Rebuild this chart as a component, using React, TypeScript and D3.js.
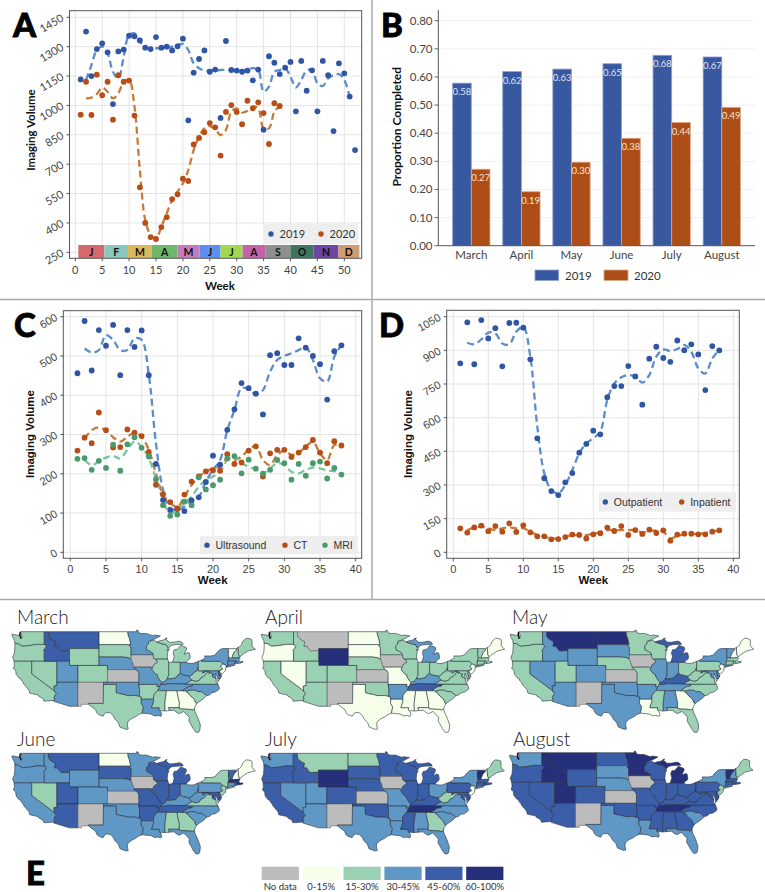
import React from "react";
import * as d3 from "d3";

// Panel A: weekly imaging volume
const volume2019 = [1133,1377,1150,1288,1317,1271,1007,1276,1285,1356,1353,1332,1295,1288,1349,1295,1300,1281,1302,1341,924,1167,1237,1281,1172,1183,936,1329,1181,1178,1172,1178,1128,1183,876,1251,1218,1160,1193,1222,970,1227,1075,1179,970,1227,1154,869,1215,1164,1045,772];
const volume2020 = [953,1121,951,1157,1052,1121,927,1154,1121,1127,948,582,400,328,318,379,430,522,546,626,614,801,834,863,910,888,744,967,1002,967,904,1024,985,1016,961,803,1011,997];
const trend2019 = [1130,1206,1283,1300,1266,1172,1138,1249,1360,1368,1326,1297,1292,1292,1292,1295,1300,1309,1314,1283,1215,1190,1178,1178,1178,1181,1181,1181,1178,1178,1184,1190,1181,1070,1096,1172,1181,1190,1147,1092,1130,1178,1181,1113,1099,1138,1155,1160,1130,1045];
const trend2020 = [1036,1040,1058,1091,1070,1036,1062,1121,1130,994,670,415,338,321,381,449,517,560,602,670,772,840,883,895,878,849,875,968,985,963,972,994,985,883,883,968,997];
const monthStrip = ["J","F","M","A","M","J","J","A","S","O","N","D"];
const monthEdges = [0.56,5.4,9.8,14.2,19,23.1,27,31.1,35.3,40,44.3,48.9,52.8];
const monthColors = ["#d4686b","#8ac8bd","#d9b95c","#6fb56b","#c47cbd","#5b8ff0","#a0d84f","#c464a8","#8f8f8f","#3f7560","#6d45a5","#cf9b72"];

// Panel B: proportion completed
const barMonths = ["March","April","May","June","July","August"];
const completed2019 = [0.578,0.619,0.628,0.647,0.677,0.671];
const completed2020 = [0.272,0.192,0.297,0.382,0.438,0.492];

// Panel C: by modality
const ultrasound = [456,589,463,566,526,579,451,566,523,565,451,225,133,108,110,105,132,140,179,246,223,312,364,431,418,404,351,502,507,477,477,545,521,500,479,389,512,527];
const ct = [259,292,278,356,311,267,268,313,305,296,256,172,148,128,112,147,180,193,206,209,208,250,225,229,259,270,193,252,261,261,243,254,268,286,254,227,283,272];
const mri = [238,240,210,233,215,274,208,275,293,266,244,186,120,93,96,129,120,191,160,171,185,239,245,201,236,213,200,210,235,227,185,225,195,227,231,188,215,198];
const ultrasoundTrend = [519,509,515,553,541,515,515,545,541,452,278,159,112,108,116,133,142,180,210,235,311,362,418,415,402,413,460,490,500,507,515,522,490,443,435,498,528];
const ctTrend = [290,311,318,310,293,282,294,305,294,261,201,146,125,116,142,171,193,205,214,218,239,235,244,261,271,235,222,248,259,248,254,269,282,252,235,273,272];
const mriTrend = [235,222,231,241,245,239,261,282,269,239,188,133,99,108,125,142,167,184,193,205,235,244,227,218,211,201,214,227,222,205,201,210,216,214,208,207,201];

// Panel D: by patient setting
const outpatient = [842,1025,838,1035,953,999,829,1022,1023,1001,860,508,330,273,255,312,353,444,483,542,526,691,741,741,830,784,658,863,916,866,849,944,901,927,882,723,919,900];
const inpatient = [107,88,111,119,94,117,92,129,91,120,89,71,71,58,59,68,79,77,62,80,85,110,95,117,77,99,82,101,86,98,52,79,83,83,80,80,92,98];
const outpatientTrend = [934,927,949,979,976,931,927,983,1005,872,560,352,278,263,300,367,441,486,508,538,679,753,780,790,783,756,790,872,904,897,906,924,894,820,797,864,901];
const inpatientTrend = [99,110,114,107,99,107,111,107,107,92,77,70,62,62,70,76,76,77,82,89,99,99,99,99,99,89,95,97,92,62,73,80,82,82,85,92,97];

// Panel E: percent bins per state, same order as stateCodes
const binLabels = ["No data","0-15%","15-30%","30-45%","45-60%","60-100%"];
const binColors = ["#bcbcbc","#f5ffe9","#9bd1b3","#5f97c5","#3b5ea8","#26307a"];
const stateCodes = ["WA","OR","CA","NV","ID","MT","WY","UT","AZ","CO","NM","ND","SD","NE","KS","OK","TX","MN","IA","MO","AR","LA","WI","IL","MI","IN","OH","KY","TN","MS","AL","GA","FL","SC","NC","VA","WV","PA","NY","VT","NH","ME","MA","CT","RI","NJ","DE","MD","DC"];
const marchBins = [2,2,2,2,4,4,2,3,3,2,0,1,2,3,0,3,2,3,0,3,2,3,2,2,2,2,3,3,3,2,1,1,2,2,3,2,2,2,3,1,2,2,3,3,3,1,4,3,4];
const aprilBins = [2,1,2,1,2,0,5,2,2,2,0,1,1,2,0,2,1,2,0,1,3,1,2,2,3,2,2,3,4,1,1,1,1,2,2,2,2,2,2,2,1,1,2,2,2,1,2,2,2];
const mayBins = [2,2,2,3,3,5,3,2,3,3,0,5,3,2,0,3,3,2,0,2,3,1,2,3,4,3,2,4,3,2,3,1,2,3,2,2,2,2,3,3,1,1,2,2,2,1,3,3,3];
const juneBins = [3,3,3,2,3,4,3,4,4,3,0,1,4,3,0,3,3,3,0,4,4,3,4,4,4,4,3,3,4,3,2,2,3,3,3,2,3,3,2,4,1,1,5,3,4,2,4,4,5];
const julyBins = [3,4,4,3,4,2,5,3,3,4,0,2,4,4,0,4,3,4,0,3,3,3,4,4,4,4,3,4,5,4,3,2,3,3,3,3,2,4,3,5,1,2,4,4,4,1,4,4,4];
const augustBins = [3,4,4,4,5,5,4,5,4,4,0,4,3,3,0,4,3,5,0,4,4,3,4,4,5,4,4,4,5,4,4,4,3,3,4,4,4,4,3,5,3,2,4,4,4,2,4,4,4];

// simplified state outlines, lon/lat
const stateRings: Record<string, number[][][]> = {
  WA: [[[-124.7,48.4],[-123.2,48.15],[-122.75,48.15],[-122.5,47.3],[-122.3,47.6],[-122.4,48.3],[-122.75,49],[-117.03,49],[-117.04,46.4],[-116.92,45.99],[-118.98,46],[-119.3,45.93],[-120.5,45.7],[-121.2,45.65],[-122.3,45.55],[-122.8,45.9],[-123.2,46.15],[-124,46.25],[-124.1,46.9],[-124.6,47.9]]],
  OR: [[[-124,46.25],[-123.2,46.15],[-122.8,45.9],[-122.3,45.55],[-121.2,45.65],[-120.5,45.7],[-119.3,45.93],[-118.98,46],[-116.92,45.99],[-116.5,45.5],[-116.85,45],[-117.2,44.45],[-116.95,44.2],[-117.03,43.8],[-117.03,42],[-120,42],[-124.2,42],[-124.4,42.6],[-124.55,42.84],[-124.1,44],[-124,45.2]]],
  CA: [[[-124.2,42],[-120,42],[-120,39],[-114.63,35],[-114.57,34.8],[-114.14,34.3],[-114.43,34.05],[-114.72,33.4],[-114.52,33.03],[-114.72,32.72],[-117.12,32.53],[-117.3,33.1],[-118.4,33.75],[-118.5,34.03],[-119.2,34.15],[-120.5,34.45],[-120.65,35.15],[-121.9,36.6],[-122,36.95],[-122.5,37.5],[-122.5,37.8],[-123,38],[-123.7,38.9],[-123.8,39.8],[-124.35,40.3],[-124.1,41]]],
  NV: [[[-120,42],[-114.04,42],[-114.04,36.2],[-114.75,36.1],[-114.63,35],[-120,39]]],
  ID: [[[-117.03,49],[-116.05,49],[-116.05,48],[-115.7,47.45],[-114.9,46.9],[-114.35,46.65],[-114.55,45.55],[-113.9,45.6],[-113.45,44.95],[-113,44.45],[-111.5,44.55],[-111.05,44.48],[-111.05,42],[-114.04,42],[-117.03,42],[-117.03,43.8],[-116.95,44.2],[-117.2,44.45],[-116.85,45],[-116.5,45.5],[-116.92,45.99],[-117.04,46.4]]],
  MT: [[[-116.05,49],[-104.05,49],[-104.05,45],[-111.05,45],[-111.05,44.48],[-111.5,44.55],[-113,44.45],[-113.45,44.95],[-113.9,45.6],[-114.55,45.55],[-114.35,46.65],[-114.9,46.9],[-115.7,47.45],[-116.05,48]]],
  WY: [[[-111.05,45],[-104.05,45],[-104.05,41],[-111.05,41]]],
  UT: [[[-114.04,42],[-111.05,42],[-111.05,41],[-109.05,41],[-109.05,37],[-114.04,37]]],
  AZ: [[[-114.04,37],[-109.05,37],[-109.05,31.33],[-111.07,31.33],[-114.81,32.5],[-114.72,32.72],[-114.52,33.03],[-114.72,33.4],[-114.43,34.05],[-114.14,34.3],[-114.57,34.8],[-114.63,35],[-114.75,36.1],[-114.04,36.2]]],
  CO: [[[-109.05,41],[-102.05,41],[-102.05,37],[-109.05,37]]],
  NM: [[[-109.05,37],[-103,37],[-103.05,32],[-106.62,32],[-106.53,31.78],[-108.2,31.78],[-108.2,31.33],[-109.05,31.33]]],
  ND: [[[-104.05,49],[-97.23,49],[-97.1,48],[-96.85,47.5],[-96.6,46.3],[-96.56,45.94],[-104.05,45.94]]],
  SD: [[[-104.05,45.94],[-96.56,45.94],[-96.85,45.6],[-96.45,45.3],[-96.45,43.5],[-96.45,42.49],[-97.2,42.85],[-98.5,43],[-104.05,43]]],
  NE: [[[-104.05,43],[-98.5,43],[-97.2,42.85],[-96.45,42.49],[-96.1,41.7],[-95.9,41],[-95.77,40.58],[-95.31,40],[-102.05,40],[-102.05,41],[-104.05,41]]],
  KS: [[[-102.05,40],[-95.31,40],[-94.9,39.8],[-94.61,39.1],[-94.62,37],[-102.05,37]]],
  OK: [[[-103,37],[-94.62,37],[-94.62,36.5],[-94.43,35.4],[-94.48,33.64],[-95.5,33.9],[-96.6,33.85],[-97.2,33.85],[-98.1,34.1],[-99.2,34.3],[-100,34.56],[-100,36.5],[-103,36.5]]],
  TX: [[[-103,36.5],[-100,36.5],[-100,34.56],[-99.2,34.3],[-98.1,34.1],[-97.2,33.85],[-96.6,33.85],[-95.5,33.9],[-94.48,33.64],[-94.04,33.55],[-94.04,33],[-94.04,31.99],[-93.55,31.2],[-93.7,30.3],[-93.85,29.7],[-94.7,29.35],[-95.3,28.9],[-96.4,28.35],[-97.2,27.7],[-97.35,27],[-97.15,25.95],[-97.6,25.85],[-98.2,26.05],[-99.1,26.4],[-99.5,27.5],[-100.3,28.3],[-100.7,29.1],[-101.4,29.77],[-102.3,29.88],[-102.7,29.65],[-103.1,28.98],[-104,29.3],[-104.5,29.65],[-104.9,30.55],[-106.53,31.78],[-106.62,32],[-103.05,32]]],
  MN: [[[-97.23,49],[-95.15,49],[-95.15,49.38],[-94.8,49.3],[-94.6,48.7],[-93.8,48.55],[-92.9,48.6],[-92,48.3],[-91.4,48.07],[-90.8,48.2],[-89.5,48],[-90.8,47.3],[-92.1,46.75],[-92.3,46.65],[-92.3,46.1],[-92.85,45.6],[-92.75,45],[-92.8,44.75],[-91.9,44.3],[-91.25,43.85],[-91.22,43.5],[-96.45,43.5],[-96.45,45.3],[-96.85,45.6],[-96.56,45.94],[-96.6,46.3],[-96.85,47.5],[-97.1,48]]],
  IA: [[[-96.45,43.5],[-91.22,43.5],[-91.1,42.7],[-90.65,42.5],[-90.15,41.8],[-91.05,41.2],[-91.42,40.38],[-91.73,40.61],[-95.77,40.58],[-95.9,41],[-96.1,41.7],[-96.45,42.49]]],
  MO: [[[-95.77,40.58],[-91.73,40.61],[-91.42,40.38],[-91.5,40],[-90.7,39],[-90.2,38.8],[-90.2,38.4],[-89.5,37.3],[-89.15,37],[-89.4,36.5],[-89.7,36],[-90.37,36],[-90.15,36.5],[-94.62,36.5],[-94.62,37],[-94.61,39.1],[-94.9,39.8],[-95.31,40]]],
  AR: [[[-94.62,36.5],[-90.15,36.5],[-90.37,36],[-89.7,36],[-90.1,35.1],[-90.6,34.6],[-91.1,33.9],[-91.15,33],[-94.04,33],[-94.04,33.55],[-94.48,33.64],[-94.43,35.4]]],
  LA: [[[-94.04,33],[-91.15,33],[-91.1,32.5],[-91.6,31],[-89.73,31],[-89.85,30.65],[-89.55,30.2],[-89.4,30.05],[-89.2,29.3],[-89.4,28.95],[-90.1,29.15],[-90.9,29.05],[-91.8,29.5],[-92.3,29.55],[-93.85,29.7],[-93.7,30.3],[-93.55,31.2],[-94.04,31.99]]],
  WI: [[[-92.3,46.65],[-92.1,46.75],[-90.9,46.95],[-90.4,46.55],[-89.1,46.13],[-88.1,45.9],[-87.8,45.35],[-87.6,45.1],[-88,44.55],[-87.4,44.9],[-87.75,44.3],[-87.9,43],[-87.8,42.5],[-90.65,42.5],[-91.1,42.7],[-91.22,43.5],[-91.25,43.85],[-91.9,44.3],[-92.8,44.75],[-92.75,45],[-92.85,45.6],[-92.3,46.1]]],
  IL: [[[-90.65,42.5],[-87.8,42.5],[-87.52,41.72],[-87.53,39.35],[-87.53,38.7],[-87.9,37.9],[-88.5,37.1],[-89.15,37],[-89.5,37.3],[-90.2,38.4],[-90.2,38.8],[-90.7,39],[-91.5,40],[-91.42,40.38],[-91.05,41.2],[-90.15,41.8]]],
  MI: [[[-86.8,41.76],[-84.8,41.76],[-84.8,41.7],[-83.45,41.73],[-83.15,42.1],[-82.5,42.6],[-82.45,43],[-82.6,43.9],[-83,44.07],[-83.9,43.65],[-83.3,44.9],[-83.45,45.3],[-84.75,45.78],[-85,45.4],[-85.6,44.8],[-86.25,44.7],[-86.5,44],[-86.25,43.1],[-86.55,42]],
       [[-90.4,46.55],[-89.1,46.13],[-88.1,45.9],[-87.8,45.35],[-87.6,45.1],[-87,45.75],[-86.3,45.9],[-85,46],[-84.1,46],[-84.4,46.5],[-85,46.77],[-86.5,46.5],[-87.4,46.5],[-88.4,47.4],[-87.9,47.47],[-88.9,47],[-89.8,46.8]]],
  IN: [[[-87.52,41.72],[-87.2,41.75],[-86.8,41.76],[-84.8,41.76],[-84.8,39.1],[-85.4,38.7],[-85.9,38],[-86.5,37.95],[-87.1,37.8],[-87.9,37.9],[-87.53,38.7],[-87.53,39.35]]],
  OH: [[[-84.8,41.7],[-83.45,41.73],[-82.7,41.5],[-81.7,41.5],[-80.52,41.98],[-80.52,40.64],[-80.85,39.7],[-81.7,39.25],[-81.75,39],[-82.6,38.4],[-83.7,38.65],[-84.3,38.8],[-84.8,39.1]]],
  KY: [[[-89.4,36.5],[-89.15,37],[-88.5,37.1],[-87.9,37.9],[-87.1,37.8],[-86.5,37.95],[-85.9,38],[-85.4,38.7],[-84.8,39.1],[-84.3,38.8],[-83.7,38.65],[-82.6,38.4],[-82.6,38.15],[-81.97,37.54],[-83.68,36.6],[-88.07,36.68],[-88.05,36.5]]],
  TN: [[[-89.7,36],[-89.4,36.5],[-88.05,36.5],[-88.07,36.68],[-83.68,36.6],[-81.68,36.59],[-82,36.1],[-82.9,35.95],[-83.5,35.57],[-84.32,35],[-85.6,35],[-88.2,35],[-90.1,35.05]]],
  MS: [[[-90.1,35.05],[-88.2,35],[-88.1,34.9],[-88.47,31.9],[-88.4,30.2],[-89.3,30.3],[-89.55,30.2],[-89.85,30.65],[-89.73,31],[-91.6,31],[-91.1,32.5],[-91.15,33],[-91.1,33.9],[-90.6,34.6]]],
  AL: [[[-88.2,35],[-85.6,35],[-85.18,32.85],[-85,32.3],[-85.05,31.55],[-85,31],[-87.6,31],[-87.4,30.65],[-87.5,30.3],[-88,30.25],[-88.4,30.2],[-88.47,31.9],[-88.1,34.9]]],
  GA: [[[-85.6,35],[-83.1,35],[-83.35,34.7],[-82.9,34.5],[-82.55,33.95],[-81.9,33.4],[-81.5,33],[-81.1,32.1],[-80.85,32.05],[-81.3,31.3],[-81.45,30.72],[-82.05,30.36],[-82.2,30.57],[-84.86,30.7],[-85,31],[-85.05,31.55],[-85,32.3],[-85.18,32.85]]],
  FL: [[[-87.6,31],[-85,31],[-84.86,30.7],[-82.2,30.57],[-82.05,30.36],[-81.45,30.72],[-81.3,30],[-80.6,28.5],[-80.05,26.9],[-80.15,25.75],[-80.4,25.2],[-81.1,25.15],[-81.8,26.1],[-82.2,26.9],[-82.75,27.8],[-82.65,28.7],[-83.4,29.5],[-84,30.1],[-85,29.6],[-85.4,29.7],[-86.3,30.4],[-87.5,30.3],[-87.4,30.65]]],
  SC: [[[-83.35,34.7],[-83.1,35],[-82.3,35.2],[-81.05,35.15],[-80.8,34.82],[-79.67,34.8],[-78.55,33.86],[-79.2,33.2],[-79.9,32.7],[-80.85,32.05],[-81.1,32.1],[-81.5,33],[-81.9,33.4],[-82.55,33.95],[-82.9,34.5]]],
  NC: [[[-84.32,35],[-83.1,35],[-82.3,35.2],[-81.05,35.15],[-80.8,34.82],[-79.67,34.8],[-78.55,33.86],[-77.9,34],[-77.3,34.55],[-76.5,34.7],[-75.7,35.25],[-75.5,35.6],[-75.87,36.55],[-81.68,36.59],[-82,36.1],[-82.9,35.95],[-83.5,35.57]]],
  VA: [[[-83.68,36.6],[-81.97,37.54],[-81.25,37.25],[-80.3,37.5],[-79.95,38.1],[-79.3,38.4],[-78.87,38.77],[-78.35,39.4],[-77.83,39.13],[-77.72,39.32],[-77.05,38.85],[-77.25,38.4],[-76.3,37.9],[-76.3,37],[-76,36.9],[-75.87,36.55],[-81.68,36.59]],
       [[-75.9,37.95],[-75.25,38.03],[-75.9,37.15]]],
  WV: [[[-81.97,37.54],[-82.6,38.15],[-82.6,38.4],[-81.75,39],[-81.7,39.25],[-80.85,39.7],[-80.52,40.64],[-80.52,39.72],[-79.48,39.72],[-79.48,39.2],[-78.75,39.6],[-78.35,39.7],[-77.72,39.32],[-77.83,39.13],[-78.35,39.4],[-78.87,38.77],[-79.3,38.4],[-79.95,38.1],[-80.3,37.5],[-81.25,37.25]]],
  PA: [[[-80.52,41.98],[-79.76,42.27],[-79.76,42],[-75.35,42],[-74.7,41.36],[-75.1,40.95],[-75.2,40.65],[-74.72,40.15],[-75.4,39.8],[-75.79,39.72],[-80.52,39.72]]],
  NY: [[[-79.76,42.27],[-79.05,42.7],[-78.9,43],[-79.05,43.26],[-77.5,43.25],[-76.5,43.5],[-76.2,44],[-75.3,44.85],[-74.7,45],[-73.35,45],[-73.4,43.6],[-73.25,42.75],[-73.5,42.05],[-73.5,41.3],[-73.65,41],[-73.75,40.85],[-72.3,41.15],[-71.9,41.05],[-73.9,40.55],[-74,40.7],[-73.9,41],[-74.7,41.36],[-75.35,42],[-79.76,42]]],
  VT: [[[-73.35,45],[-71.5,45],[-71.5,44.7],[-72.05,44.1],[-72.45,43.2],[-72.46,42.73],[-73.25,42.75],[-73.4,43.6]]],
  NH: [[[-71.5,45],[-71.1,45.3],[-71,43.6],[-70.7,43.07],[-70.82,42.87],[-72.46,42.73],[-72.45,43.2],[-72.05,44.1],[-71.5,44.7]]],
  ME: [[[-71.1,45.3],[-70.8,45.4],[-70.3,45.9],[-70,46.7],[-69.2,47.45],[-68.3,47.35],[-67.8,47.07],[-67.8,45.7],[-67.45,45.2],[-67,44.85],[-68.8,44.4],[-69.8,43.75],[-70.6,43.1],[-70.7,43.07],[-71,43.6]]],
  MA: [[[-73.25,42.75],[-72.46,42.73],[-70.82,42.87],[-70.6,42.65],[-71,42.3],[-70.6,41.95],[-70,42],[-70,41.7],[-70.65,41.55],[-71.2,41.5],[-71.38,42.02],[-71.8,42.02],[-73.5,42.05]]],
  CT: [[[-73.5,42.05],[-71.8,42.02],[-71.85,41.32],[-72.9,41.25],[-73.65,41],[-73.5,41.3]]],
  RI: [[[-71.8,42.02],[-71.38,42.02],[-71.2,41.5],[-71.85,41.32]]],
  NJ: [[[-74.7,41.36],[-73.9,41],[-74,40.5],[-74.1,39.75],[-74.9,38.95],[-75.55,39.45],[-75.4,39.8],[-74.72,40.15],[-75.2,40.65],[-75.1,40.95]]],
  DE: [[[-75.79,39.72],[-75.4,39.8],[-75.55,39.45],[-75.1,38.8],[-75.05,38.45],[-75.7,38.46]]],
  MD: [[[-79.48,39.72],[-75.79,39.72],[-75.7,38.46],[-75.05,38.45],[-75.25,38.03],[-75.9,37.95],[-76.2,38.6],[-76.4,39.2],[-76.5,38.5],[-76.3,37.9],[-77.25,38.4],[-77.05,38.85],[-77.72,39.32],[-78.35,39.7],[-78.75,39.6],[-79.48,39.2]]],
  DC: [[[-77.12,38.93],[-77.04,39],[-76.91,38.89],[-77.04,38.79]]],
};
const pugetSound = [[-122.75,48.9],[-122.8,48.2],[-122.55,47.4]];

const C_2019 = "#2f55a4";
const C_2020 = "#b84e17";
const L_2019 = "#5b8ec9";
const L_2020 = "#c97a3a";
const C_MRI = "#4a9a6c";
const L_MRI = "#7cc4a0";
const LATO = "Lato, sans-serif";
const ARIAL = "'Liberation Sans', Arial, sans-serif";

interface Series {
  name: string;
  values: number[];
  trend: number[];
  dot: string;
  line: string;
}

interface ScatterProps {
  frame: [number, number, number, number]; // left, top, right, bottom
  xRange: [number, number];
  xMax: number;
  yRange: [number, number];
  yDomain: [number, number];
  yStep: number;
  font: string;
  series: Series[];
  weekLabelX: number;
  yLabelX: number;
  yLabelY: number;
  tickY: number;
  weekY: number;
  children?: React.ReactNode;
}

const ScatterPanel: React.FC<ScatterProps> = (p) => {
  const [left, top, right, bottom] = p.frame;
  const x = d3.scaleLinear().domain([0, p.xMax]).range(p.xRange);
  const y = d3.scaleLinear().domain(p.yDomain).range(p.yRange);
  const yTicks = d3.range(p.yDomain[0], p.yDomain[1] + 1, p.yStep);
  const xTicks = d3.range(0, p.xMax + 1, 5);
  const line = d3
    .line<number>()
    .x((_, i) => x(i + 2))
    .y((d) => y(d))
    .curve(d3.curveCatmullRom);

  return (
    <g fontFamily={p.font}>
      {xTicks.map((t) => (
        <line key={t} x1={x(t)} x2={x(t)} y1={top} y2={bottom} stroke="#e4e4e4" strokeWidth={1} />
      ))}
      {yTicks.map((t) => (
        <line key={t} x1={left} x2={right} y1={y(t)} y2={y(t)} stroke="#e4e4e4" strokeWidth={1} />
      ))}
      {p.series.map((s) => (
        <path key={s.name} d={line(s.trend) || ""} fill="none" stroke={s.line} strokeWidth={2.3} strokeDasharray="7,4" />
      ))}
      {p.series.map((s) =>
        s.values.map((v, i) => <circle key={s.name + i} cx={x(i + 1)} cy={y(v)} r={2.9} fill={s.dot} />)
      )}
      {p.children}
      <rect x={left} y={top} width={right - left} height={bottom - top} fill="none" stroke="#555" strokeWidth={1} />
      {xTicks.map((t) => (
        <g key={t}>
          <line x1={x(t)} x2={x(t)} y1={bottom} y2={bottom + 3} stroke="#555" />
          <text x={x(t)} y={p.tickY} textAnchor="middle" fontSize={11} fill="#444">
            {t}
          </text>
        </g>
      ))}
      {yTicks.map((t) => (
        <g key={t}>
          <line x1={left - 3} x2={left} y1={y(t)} y2={y(t)} stroke="#555" />
          <text transform={`translate(${left - 5},${y(t) + 3}) rotate(-30)`} textAnchor="end" fontSize={11} fill="#444">
            {t}
          </text>
        </g>
      ))}
      <text x={p.weekLabelX} y={p.weekY} textAnchor="middle" fontSize={11.5} fontWeight={700} fill="#111">
        Week
      </text>
      <text transform={`translate(${p.yLabelX},${p.yLabelY}) rotate(-90)`} textAnchor="middle" fontSize={11.5} fontWeight={700} fill="#111">
        Imaging Volume
      </text>
    </g>
  );
};

interface LegendProps {
  box: [number, number, number, number];
  items: { label: string; dotX: number; color: string }[];
  fontSize: number;
}

const DotLegend: React.FC<LegendProps> = ({ box, items, fontSize }) => {
  const cy = (box[1] + box[3]) / 2;
  return (
    <g>
      <rect x={box[0]} y={box[1]} width={box[2] - box[0]} height={box[3] - box[1]} fill="#eeeeee" />
      {items.map((d) => (
        <g key={d.label}>
          <circle cx={d.dotX} cy={cy} r={2.7} fill={d.color} />
          <text x={d.dotX + 8.5} y={cy + 3.8} fontSize={fontSize} fill="#333">
            {d.label}
          </text>
        </g>
      ))}
    </g>
  );
};

const BarPanel: React.FC = () => {
  const x = d3.scaleBand<string>().domain(barMonths).range([446.25, 746.85]).paddingInner(0.255).paddingOuter(0.1275);
  const y = d3.scaleLinear().domain([0, 0.8]).range([245.7, 20.7]);
  const w = x.bandwidth() / 2;
  const ticks = d3.range(0, 0.81, 0.1);
  const bars = [
    { values: completed2019, fill: "#38589f", stroke: "#8fa4cf", label: "#dfe6f5", offset: 0 },
    { values: completed2020, fill: "#ad4e18", stroke: "#dfa888", label: "#f7e3d6", offset: w },
  ];
  return (
    <g fontFamily={LATO}>
      {ticks.map((t) => (
        <g key={t}>
          {t > 0 && <line x1={438.3} x2={755} y1={y(t)} y2={y(t)} stroke="#f1f1f1" />}
          <line x1={434.5} x2={438.3} y1={y(t)} y2={y(t)} stroke="#666" />
          <text x={432.5} y={y(t) + 4} textAnchor="end" fontSize={11.5} fill="#444">
            {t.toFixed(2)}
          </text>
        </g>
      ))}
      {bars.map((b) =>
        b.values.map((v, i) => {
          const bx = (x(barMonths[i]) as number) + b.offset;
          return (
            <g key={b.fill + i}>
              <rect x={bx} y={y(v)} width={w} height={y(0) - y(v)} fill={b.fill} stroke={b.stroke} strokeWidth={0.8} />
              <text x={bx + w / 2} y={y(v) + 12} textAnchor="middle" fontSize={9.5} fill={b.label}>
                {v.toFixed(2)}
              </text>
            </g>
          );
        })
      )}
      <line x1={438.3} x2={438.3} y1={10} y2={245.7} stroke="#555" />
      <line x1={438.3} x2={755} y1={245.7} y2={245.7} stroke="#555" />
      {barMonths.map((m) => (
        <text key={m} x={(x(m) as number) + w} y={259} textAnchor="middle" fontSize={11.5} fill="#444">
          {m}
        </text>
      ))}
      <text transform="translate(400.5,126.7) rotate(-90)" textAnchor="middle" fontSize={12} fontWeight={700} fill="#111">
        Proportion Completed
      </text>
      <rect x={535} y={270} width={23.7} height={10.5} fill="#38589f" stroke="#8fa4cf" strokeWidth={0.8} />
      <text x={565} y={280} fontSize={11.5} fill="#333">2019</text>
      <rect x={604} y={270} width={24} height={10.5} fill="#ad4e18" stroke="#dfa888" strokeWidth={0.8} />
      <text x={634} y={280} fontSize={11.5} fill="#333">2020</text>
    </g>
  );
};

const MAP_SCALE = 4.22;

const StateMap: React.FC<{ title: string; bins: number[]; left: number; top: number; titleX: number; titleY: number }> = ({ title, bins, left, top, titleX, titleY }) => {
  const projection = d3
    .geoIdentity()
    .reflectY(true)
    .scale(MAP_SCALE)
    .translate([left + 124.75 * MAP_SCALE, top + 49 * MAP_SCALE]);
  const path = d3.geoPath(projection as any);
  return (
    <g>
      <text x={titleX} y={titleY} fontFamily={LATO} fontWeight={300} fontSize={19} fill="#222">
        {title}
      </text>
      {stateCodes.map((code, i) => (
        <path
          key={code}
          // d3 expects closed rings, it drops the last point otherwise
          d={path({ type: "MultiPolygon", coordinates: stateRings[code].map((r) => [[...r, r[0]]]) } as any) || ""}
          fill={binColors[bins[i]]}
          stroke={bins[i] === 0 ? "#666" : "#2a3140"}
          strokeWidth={0.6}
          strokeLinejoin="round"
        />
      ))}
      <path d={path({ type: "LineString", coordinates: pugetSound } as any) || ""} fill="none" stroke="#111" strokeWidth={1.5} />
    </g>
  );
};

const mapPanels = [
  { title: "March", bins: marchBins, left: 11.7, top: 631.7, titleX: 17, titleY: 624 },
  { title: "April", bins: aprilBins, left: 261, top: 631.7, titleX: 265, titleY: 624 },
  { title: "May", bins: mayBins, left: 510, top: 631.7, titleX: 512, titleY: 624 },
  { title: "June", bins: juneBins, left: 11.7, top: 753.3, titleX: 17, titleY: 745.7 },
  { title: "July", bins: julyBins, left: 260.7, top: 753.3, titleX: 265, titleY: 745.7 },
  { title: "August", bins: augustBins, left: 509.3, top: 752.7, titleX: 513, titleY: 745.7 },
];

const letters = [
  { t: "A", x: 13, y: 37 },
  { t: "B", x: 381, y: 37 },
  { t: "C", x: 14, y: 337 },
  { t: "D", x: 379, y: 337 },
  { t: "E", x: 26, y: 885 },
];

export default function App() {
  const stripX = d3.scaleLinear().domain([0, 50]).range([75.3, 344.3]);
  return (
    <svg width={765} height={892} style={{ position: "absolute", left: 0, top: 0, background: "#fff" }}>
      <line x1={372} x2={372} y1={0} y2={599} stroke="#aaa" strokeWidth={1.5} />
      <line x1={0} x2={765} y1={299.5} y2={299.5} stroke="#aaa" strokeWidth={1.5} />
      <line x1={0} x2={765} y1={599.5} y2={599.5} stroke="#aaa" strokeWidth={1.5} />

      <ScatterPanel
        frame={[69.5, 10.7, 361.7, 258.3]}
        xRange={[75.3, 344.3]}
        xMax={50}
        yRange={[252.3, 17.3]}
        yDomain={[250, 1450]}
        yStep={150}
        font={LATO}
        series={[
          { name: "2019", values: volume2019, trend: trend2019, dot: C_2019, line: L_2019 },
          { name: "2020", values: volume2020, trend: trend2020, dot: C_2020, line: L_2020 },
        ]}
        weekLabelX={220}
        weekY={290}
        tickY={274}
        yLabelX={34.5}
        yLabelY={130}
      >
        {monthStrip.map((m, i) => (
          <g key={i}>
            <rect x={stripX(monthEdges[i])} y={245} width={stripX(monthEdges[i + 1]) - stripX(monthEdges[i])} height={13} fill={monthColors[i]} />
            <text x={(stripX(monthEdges[i]) + stripX(monthEdges[i + 1])) / 2} y={255.5} textAnchor="middle" fontSize={10.5} fontWeight={700} fill="#111">
              {m}
            </text>
          </g>
        ))}
        <DotLegend box={[263, 224, 358, 244]} fontSize={11} items={[{ label: "2019", dotX: 271, color: C_2019 }, { label: "2020", dotX: 321, color: C_2020 }]} />
      </ScatterPanel>

      <BarPanel />

      <ScatterPanel
        frame={[63.3, 310.7, 361.7, 558.3]}
        xRange={[70.3, 355.7]}
        xMax={40}
        yRange={[552.3, 316.7]}
        yDomain={[0, 600]}
        yStep={100}
        font={ARIAL}
        series={[
          { name: "Ultrasound", values: ultrasound, trend: ultrasoundTrend, dot: C_2019, line: L_2019 },
          { name: "CT", values: ct, trend: ctTrend, dot: C_2020, line: L_2020 },
          { name: "MRI", values: mri, trend: mriTrend, dot: C_MRI, line: L_MRI },
        ]}
        weekLabelX={212.7}
        weekY={584}
        tickY={573}
        yLabelX={34}
        yLabelY={434}
      >
        <DotLegend box={[200, 536, 357.7, 554.3]} fontSize={10.5} items={[{ label: "Ultrasound", dotX: 207, color: C_2019 }, { label: "CT", dotX: 285, color: C_2020 }, { label: "MRI", dotX: 325, color: C_MRI }]} />
      </ScatterPanel>

      <ScatterPanel
        frame={[446.7, 310.3, 739.3, 558.3]}
        xRange={[453.3, 733.3]}
        xMax={40}
        yRange={[552.3, 316.7]}
        yDomain={[0, 1050]}
        yStep={150}
        font={ARIAL}
        series={[
          { name: "Outpatient", values: outpatient, trend: outpatientTrend, dot: C_2019, line: L_2019 },
          { name: "Inpatient", values: inpatient, trend: inpatientTrend, dot: C_2020, line: L_2020 },
        ]}
        weekLabelX={593.3}
        weekY={584}
        tickY={573}
        yLabelX={412}
        yLabelY={434}
      >
        <DotLegend box={[598.7, 492.3, 736, 511.7]} fontSize={10.5} items={[{ label: "Outpatient", dotX: 605.3, color: C_2019 }, { label: "Inpatient", dotX: 681.7, color: C_2020 }]} />
      </ScatterPanel>

      {mapPanels.map((m) => (
        <StateMap key={m.title} {...m} />
      ))}

      {binLabels.map((label, i) => (
        <g key={label} fontFamily={LATO}>
          <rect x={261.7 + i * 40.9} y={866.7} width={37.2} height={13.3} fill={binColors[i]} />
          <text x={280.3 + i * 40.9} y={890} textAnchor="middle" fontSize={9.5} fill="#333">
            {label}
          </text>
        </g>
      ))}

      {letters.map((l) => (
        <text key={l.t} x={l.x} y={l.y} fontFamily={LATO} fontWeight={900} fontSize={33} fill="#000" stroke="#000" strokeWidth={0.8}>
          {l.t}
        </text>
      ))}
    </svg>
  );
}
